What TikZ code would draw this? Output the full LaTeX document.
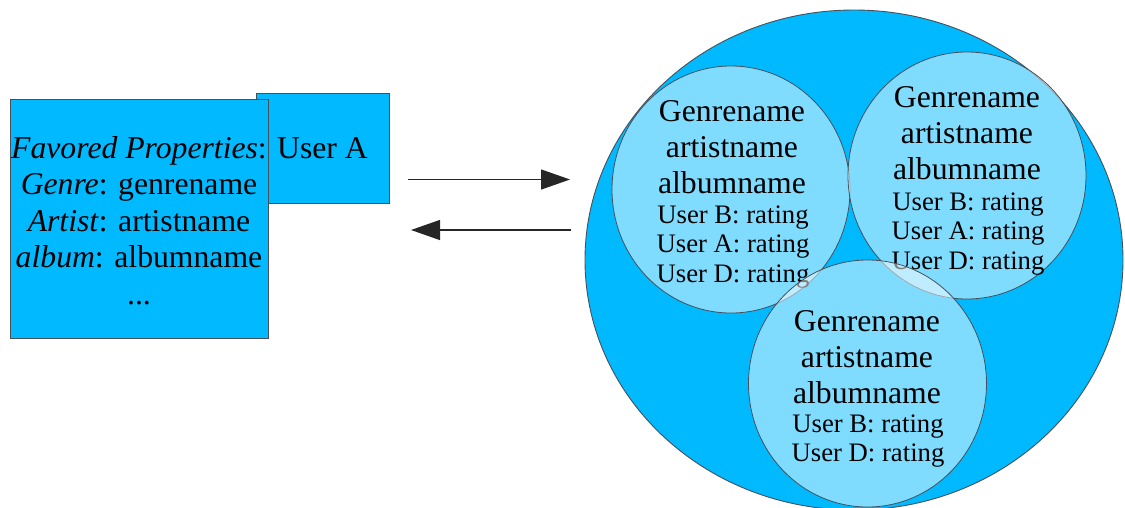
\documentclass[tikz,border=0pt]{standalone}
\usepackage{fontspec}
\setmainfont{Liberation Serif}
\usetikzlibrary{shapes.geometric,arrows.meta}
\definecolor{skyfill}{RGB}{0,185,255}
\definecolor{edgegray}{RGB}{70,80,90}
\newcommand\titlesize{\fontsize{31.7pt}{36pt}\selectfont}
\newcommand\panelsize{\fontsize{31.7pt}{36.6pt}\selectfont}
\newcommand\ratesize{\fontsize{26.7pt}{29.3pt}\selectfont}
\begin{document}
\begin{tikzpicture}[x=1pt,y=-1pt,
  panel/.style={draw=edgegray, line width=0.9pt, fill=skyfill, inner sep=0pt,
                align=center, font=\titlesize},
  world/.style={ellipse, draw=edgegray, line width=0.9pt, fill=skyfill, inner sep=0pt},
  cluster/.style={ellipse, draw=edgegray, line width=0.8pt, fill=white,
                  fill opacity=0.5, draw opacity=1, inner sep=0pt,
                  minimum width=238pt, minimum height=247pt},
  titleblock/.style={align=center, inner sep=0pt, font=\titlesize},
  rateblock/.style={align=center, inner sep=0pt, font=\ratesize},
  flow/.style={line width=1.3pt, draw=black!85, -{Triangle[length=29pt,width=20pt]}}
]
\useasboundingbox (0,0) rectangle (1125,507);

% user profile boxes
\node[panel, minimum width=133pt, minimum height=110pt] (user) at (322.5,148) {User A};
\node[panel, minimum width=258pt, minimum height=239pt] (props) at (139,218.5) {};
\node[titleblock, font=\panelsize] (proptext) at (139,220.5)
  {\textit{Favored Properties}:\\ \textit{Genre}: genrename\\ \textit{Artist}: artistname\\
   \textit{album}: albumname\\ ...};

% request / response arrows
\coordinate (sendfrom) at (408,179.5);
\coordinate (sendto)   at (570,179.5);
\coordinate (backfrom) at (571,230);
\coordinate (backto)   at (411,230);
\draw[flow] (sendfrom) -- (sendto);
\draw[flow] (backfrom) -- (backto);

% collection of item clusters
\node[world, minimum width=538pt, minimum height=500pt] (world) at (854,260) {};

\node[cluster] (c1) at (731,189.5) {};
\node[titleblock] (c1t) at (732,147) {Genrename\\artistname\\albumname};
\node[rateblock]  (c1r) at (733,247) {User B: rating\\User A: rating\\User D: rating};

\node[cluster] (c2) at (967,175.5) {};
\node[titleblock] (c2t) at (967,133.5) {Genrename\\artistname\\albumname};
\node[rateblock]  (c2r) at (968,234) {User B: rating\\User A: rating\\User D: rating};

\node[cluster] (c3) at (867.5,383.5) {};
\node[titleblock] (c3t) at (867,357) {Genrename\\artistname\\albumname};
\node[rateblock]  (c3r) at (868,441) {User B: rating\\User D: rating};
\end{tikzpicture}
\end{document}
